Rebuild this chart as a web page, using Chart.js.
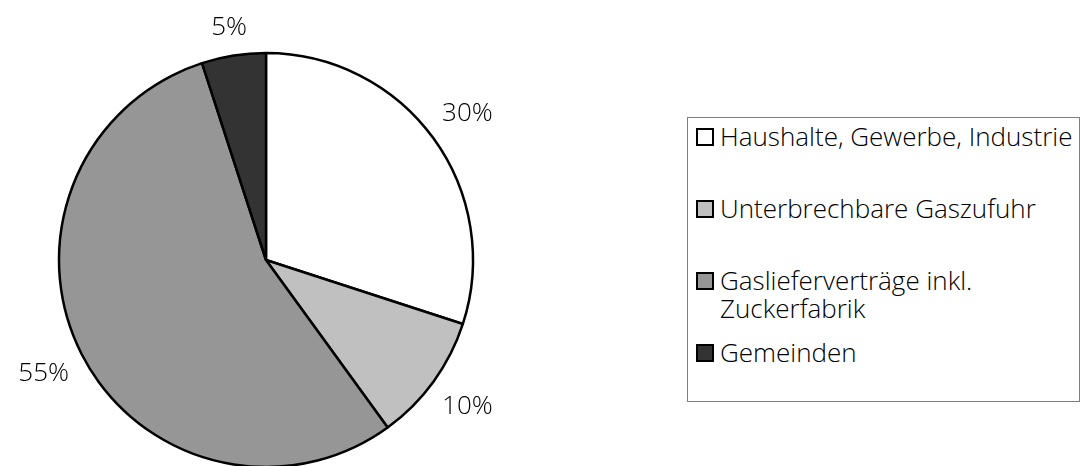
<!DOCTYPE html>
<html lang="de">
<head>
<meta charset="utf-8">
<title>Gasverbrauch nach Abnehmergruppen</title>
<script src="https://cdn.jsdelivr.net/npm/chart.js@4/dist/chart.umd.min.js"></script>
<style>
    html, body {
        margin: 0;
        padding: 0;
        width: 1084px;
        height: 466px;
        overflow: hidden;
        background: #fff;
        font-family: 'Open Sans', 'Noto Sans', sans-serif;
    }
    #chartWrap {
        position: absolute;
        left: 0;
        top: 0;
        width: 532px;
        height: 520px;
    }
    #legend {
        position: absolute;
        left: 687px;
        top: 117px;
        width: 393px;
        height: 285px;
        border: 1px solid #7f7f7f;
        box-sizing: border-box;
        padding-top: 5px;
    }
    .legend-item {
        position: relative;
        height: 72px;
        font-size: 26px;
        font-weight: 300;
        line-height: 28px;
        color: #000;
        white-space: nowrap;
    }
    .legend-box {
        position: absolute;
        left: 8px;
        top: 5px;
        width: 18px;
        height: 18px;
        border: 2px solid #000;
        box-sizing: border-box;
    }
    .legend-text {
        position: absolute;
        left: 32px;
        top: -1px;
    }
</style>
</head>
<body>
<div id="chartWrap"><canvas id="pieChart" width="532" height="520"></canvas></div>
<div id="legend"></div>

<script>
// Kategorien (Legende)
const categories = [
    'Haushalte, Gewerbe, Industrie',
    'Unterbrechbare Gaszufuhr',
    ['Gaslieferverträge inkl.', 'Zuckerfabrik'],
    'Gemeinden'
];

// Anteile in Prozent
const shares = [30, 10, 55, 5];

// Füllfarben der Segmente
const sliceColors = ['#ffffff', '#c0c0c0', '#969696', '#333333'];

/**
 * Prozentwerte außerhalb der Segmente zeichnen
 * (Abstand wie bei Excel: Textkasten mit festem Abstand zum Kreis)
 */
const outsideLabels = {
    id: 'outsideLabels',
    afterDatasetsDraw(chart) {
        const ctx = chart.ctx;
        const meta = chart.getDatasetMeta(0);
        const values = chart.data.datasets[0].data;
        const gap = 15;
        const boxH = 22;

        ctx.save();
        ctx.font = '300 26px "Open Sans", "Noto Sans", sans-serif';
        ctx.fillStyle = '#000';
        ctx.textAlign = 'center';
        ctx.textBaseline = 'middle';

        meta.data.forEach((arc, i) => {
            const p = arc.getProps(['x', 'y', 'startAngle', 'endAngle', 'outerRadius'], true);
            const mid = (p.startAngle + p.endAngle) / 2;
            const text = values[i] + '%';
            const w = ctx.measureText(text).width;
            const cx = Math.cos(mid);
            const cy = Math.sin(mid);
            const r = p.outerRadius + gap + Math.abs(cx) * w / 2 + Math.abs(cy) * boxH / 2;
            ctx.fillText(text, p.x + cx * r, p.y + cy * r);
        });
        ctx.restore();
    }
};

const canvas = document.getElementById('pieChart');
const chart = new Chart(canvas.getContext('2d'), {
    type: 'pie',
    data: {
        labels: categories,
        datasets: [{
            data: shares,
            backgroundColor: sliceColors,
            borderColor: '#000',
            borderWidth: 2.5,
            radius: 207
        }]
    },
    options: {
        responsive: false,
        animation: false,
        layout: { padding: 0 },
        plugins: {
            legend: { display: false },
            tooltip: { enabled: false }
        }
    },
    plugins: [outsideLabels]
});

// HTML-Legende aus den Chartdaten aufbauen
const legendEl = document.getElementById('legend');
chart.data.labels.forEach((label, i) => {
    const item = document.createElement('div');
    item.className = 'legend-item';

    const box = document.createElement('span');
    box.className = 'legend-box';
    box.style.background = chart.data.datasets[0].backgroundColor[i];

    const text = document.createElement('span');
    text.className = 'legend-text';
    const lines = Array.isArray(label) ? label : [label];
    lines.forEach((line, j) => {
        if (j > 0) text.appendChild(document.createElement('br'));
        text.appendChild(document.createTextNode(line));
    });

    item.appendChild(box);
    item.appendChild(text);
    legendEl.appendChild(item);
});
</script>
</body>
</html>
